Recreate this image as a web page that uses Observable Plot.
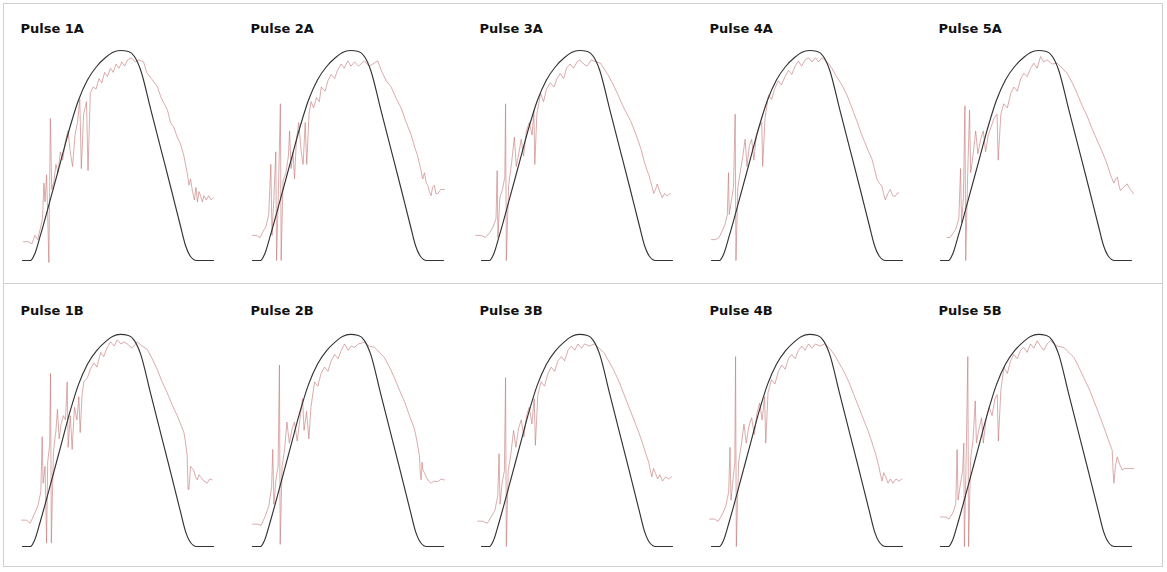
<!DOCTYPE html>
<html><head><meta charset="utf-8">
<script src="https://cdn.jsdelivr.net/npm/d3@7"></script>
<script src="https://cdn.jsdelivr.net/npm/@observablehq/plot@0.6"></script>
<style>
body{margin:0;background:#fff;}
.row{position:absolute;left:3px;width:1160px;border:1px solid #cfcfcf;box-sizing:border-box;overflow:hidden;}
</style></head><body>
<div id="rowA" class="row" style="top:3px;height:281px"></div>
<div id="rowB" class="row" style="top:283px;height:284px"></div>
<script>
const pulses = ["1","2","3","4","5"];
const groups = ["A","B"];

// shared reference pulse (black): time (0-100) and level (0-100)
const blackX = [0,4.2,6.3,9.4,14.7,19.9,25.1,29.3,34,38.7,43.5,47.1,51.3,55.5,58.6,61.8,67,72.3,77.5,82.7,85.3,88,91.1,100];
const blackY = [0,0,2.9,12.1,29.6,47.1,64.6,76.7,86.4,92.7,97.1,99.5,100.5,100,97.6,91.3,72.8,53.9,35.4,16.5,7.3,1.9,0,0];

// measured pulses (red): [time, level]
const red1A = [[0.5,9],[3,9],[5,8],[6.5,12],[8,10],[9.5,16],[10.5,20],[11.2,37],[11.8,28],[12.6,41],[13.2,22],[13.8,-1],[14.6,68],[15.3,34],[16.5,38],[17.5,46],[18.6,42],[19.8,52],[21,48],[22.5,57],[23.8,62],[25,52],[26.2,45],[27.5,60],[28.8,66],[30,77],[30.8,44],[32,70],[33.5,76],[34.3,43],[35.5,80],[37,83],[38.5,82],[40,87],[41.5,85],[43,90],[44.5,88],[46,92],[47.5,90],[49,94],[50.5,92],[52,95],[53.5,93],[55,96],[57,97],[59,95],[61,96],[63.4,95],[65,90],[67.5,87],[70.7,83],[72.5,78],[75.9,72],[77.5,66],[79.1,64],[81,59],[82.7,56],[84.5,50],[86.4,41],[87.2,36],[88,39],[89,33],[90,29],[90.8,35],[91.6,28],[92.4,33],[93.2,31],[94.2,28],[95,31],[96.2,29],[97.5,31],[98.8,29],[100,30]];
const red2A = [[0,12],[2,12],[4,11],[5.5,14],[7,16],[8.5,22],[9.6,46],[10.2,12],[11.2,30],[12.2,52],[12.6,0],[13.6,34],[14.6,75],[15,0],[16,38],[17.5,42],[18.8,50],[19.4,62],[20.2,44],[21.2,52],[22,39],[23,58],[24.2,66],[25.5,52],[26.5,46],[27.6,66],[28.4,46],[29.6,70],[30.7,76],[32,73],[33.5,78],[35,76],[36,83],[38,81],[39.5,86],[41.2,89],[43,87],[44.5,91],[46.4,94],[48,92],[49.9,95.5],[51.5,93],[53.4,95],[55.5,93],[58.6,95.5],[61,93],[63,94],[65.6,95.5],[67.4,91],[70,86],[72.6,83],[75,78],[77.8,73],[80.5,66],[83.1,60],[85,54],[86.5,50],[88,44],[89.1,39],[90,42],[91,37],[91.8,36],[92.6,33],[93.5,31],[94.3,35],[95.2,36],[96,32],[97,32],[98.5,34],[100.5,34]];
const red3A = [[-3,12],[0,12],[2,11],[4,13],[6,16],[7.6,20],[8.2,43],[8.6,11],[9.6,30],[11,34],[12.2,40],[12.6,75],[13,0],[14.2,36],[15.8,47],[17.2,59],[18.2,45],[19.5,51],[20.8,58],[22,50],[23.5,62],[25,66],[26.5,60],[27.4,72],[27.9,46],[29,70],[30.9,80],[32.5,76],[34,82],[36,85],[38,83],[39.5,87],[41.2,89.5],[43,87],[44.5,92],[46.4,94],[48.2,92],[50,95],[51.6,96],[53.5,94],[55.3,93],[57.5,96],[60,95],[62.3,94.4],[64,92],[65.8,89.5],[68.5,85],[71.1,80],[74.5,73],[78,67],[80.6,61],[83.3,54],[85,48],[86.7,43],[87.6,41],[88.5,38],[89.4,35],[90.2,32],[91.1,34],[92,36.6],[93.3,33],[94.6,30],[95.8,32],[97.2,31],[98.9,32]];
const red4A = [[0,10],[2,10],[4,11],[5.5,14],[7,17],[8.3,22],[8.9,42],[9.3,22],[10.3,28],[11.5,35],[12.4,70],[12.8,0],[13.8,35],[15,42],[16.4,50],[17.6,58],[18.6,45],[19.8,55],[21,58],[22.2,48],[23.5,60],[25,64],[26.3,66],[26.8,45],[28,68],[29.8,79],[31.5,77],[33,82],[35,86],[36.6,84],[38.5,88],[40.3,91],[42,89],[43.8,93],[45.5,95.5],[47.2,93],[49,96],[50.8,97],[52.6,95],[54.5,97],[56,95],[57.8,97],[60.5,95],[63,92],[65.5,88],[68.2,84],[71,79],[73.5,73],[76,67],[78.7,60],[81.4,54],[84,48.5],[85.3,44],[86.6,39],[87.9,37],[89.2,35.6],[90.1,32],[91,29],[92.3,32],[93.6,34],[94.9,31],[96.2,30.7],[97.1,32],[98,32.4]];
const red5A = [[3.5,11],[5,11],[6.5,13],[8,15],[9.6,20],[10.5,44],[11,18],[12,30],[12.8,74],[13.2,0],[14.2,40],[15.2,72],[15.8,42],[17,50],[18.4,62],[19.6,51],[21,58],[22.4,62],[23.6,52],[25,60],[26.5,64],[28,68],[29.6,70],[30.2,48],[31.6,70],[33.1,75],[35,73],[36.8,80],[38.4,83],[40.2,81],[42,87],[43.6,89.6],[45.4,88],[47.2,92],[48.9,94.4],[50.6,92],[52.4,97.6],[54,95],[55.8,96],[58.5,94],[61.1,94.4],[63.8,92],[66.3,89.6],[69,85],[71.5,80],[74.2,74],[76.8,69],[79.4,63],[82,57.5],[84.7,52],[87.3,46],[89,41],[90.8,37],[91.7,39],[92.6,40],[93.4,36],[94.2,33.5],[95.9,35],[97.7,36.7],[99.4,34],[101,32]];
const red1B = [[-0.5,12.5],[2,12.5],[4,11],[6,15],[8,19],[9.6,26],[10.3,52],[10.8,30],[11.8,38],[12.6,1.6],[13.2,40],[14.2,48],[14.7,82],[15.1,1.6],[16.2,45],[17.5,55],[18.3,65],[19.2,51],[20.2,58],[21.4,62],[22.5,60],[23.4,78],[23.9,47],[25,62],[26,46],[27.2,66],[28.5,60],[29.5,71],[30.2,54],[31.2,72],[32.1,78],[34,80],[35.5,84],[37.4,87],[39,85],[40.9,92],[42.5,90],[44.2,94],[46.1,97],[48,95],[49.6,98],[51.5,96],[53.2,97],[54.8,96],[57.4,94],[60,97],[62.6,95],[65.3,93.5],[67.9,89],[70.5,84],[73.1,78],[75.7,73],[78.4,67],[81,62],[82.8,58],[84.5,54],[85.4,49],[86.2,43],[86.7,27],[87.1,27],[88,38],[88.9,37],[89.7,36],[90.6,33],[91.5,31.6],[92.4,34],[93.2,33],[95,31],[96.7,30],[98,32],[99.3,31.6]];
const red2B = [[0,10.6],[2.5,10.6],[4.5,10],[6.5,14],[8.5,19],[10,28],[10.6,46],[11.2,20],[12.3,32],[13.4,38],[14.1,86],[14.5,1],[15.5,38],[16.8,46],[18,59],[19.3,49],[20.8,56],[22,59],[23.4,50],[24.8,60],[26.2,70],[27,55],[28.3,64],[29.5,51],[30.6,66],[32.5,78],[34.2,76],[35.9,82],[37.7,85],[39.5,83],[41.2,88],[43,91],[44.8,89],[46.5,93],[48.2,96],[50,93],[51.7,95],[53.4,94.4],[55.5,96],[58.6,96.8],[61,95],[63.9,94.4],[66.5,92],[69.1,89.5],[71.7,85],[74.3,80],[77,74],[79.6,68.6],[82.2,62],[84.8,55.7],[86.1,50],[87.4,43],[87.9,34],[88.3,31.6],[88.8,40],[89.2,36.3],[90,35],[90.9,33],[92.2,31],[93.5,30],[95.2,31],[97,30.7],[98.8,32],[100.5,31.5]];
const red3B = [[-2,12],[0.5,12],[3,11],[5,14],[7,17],[8.5,24],[9.2,44],[9.7,20],[10.8,30],[12,36],[12.6,80],[13,0],[14,36],[15.4,44],[16.8,55],[18,47],[19.4,56],[20.8,60],[22.2,52],[23.6,62],[25,66],[26.4,58],[27.6,70],[28.2,48],[29.5,72],[31.2,78],[33,76],[34.8,82],[36.5,85],[38.3,83],[40,88],[41.8,90],[43.5,88],[45.3,93],[47,95],[48.8,93],[50.5,96],[52.3,94],[54,96],[56.5,95],[59,96],[61.5,94],[64,92],[66.5,88],[69,84],[71.6,79],[74.2,73],[76.8,67],[79.4,61],[82,55],[84.3,49],[86,44],[87.5,40],[88.4,36],[89.2,33],[90,37],[91,35],[92.2,32],[93.4,34],[94.8,31],[96.4,33],[98,32],[99.5,33]];
const red4B = [[-1,13],[1.5,13],[3.5,12],[5.5,15],[7.5,19],[9,26],[9.7,47],[10.2,22],[11.3,32],[12.2,40],[12.6,90],[13,0],[14.2,40],[15.6,48],[17,58],[18.2,49],[19.6,57],[21,61],[22.4,53],[23.8,63],[25.2,68],[26.5,60],[27.8,71],[28.4,49],[29.6,73],[31.4,79],[33.2,77],[35,83],[36.8,86],[38.6,84],[40.3,89],[42,91],[43.8,89],[45.5,93],[47.3,95],[49,93],[50.8,96],[52.5,94],[54.3,96],[56.8,95],[59.3,96],[61.8,94],[64.3,91],[66.8,87],[69.3,83],[71.9,78],[74.5,72],[77.1,66],[79.7,60],[82.3,54],[84.5,48],[86.2,43],[87.6,38],[88.5,34],[89.3,31],[90.2,35],[91.2,33],[92.4,30],[93.6,32],[95,30],[96.6,32],[98.2,31],[99.6,32]];
const red5B = [[0,14],[2.5,14],[4.5,13],[6.5,16],[8,20],[8.7,46],[9.2,22],[10.5,30],[11.6,36],[12.2,49],[12.5,0],[13.4,40],[14.3,90],[14.7,0],[15.8,42],[17,50],[18.2,69],[18.8,49],[20,55],[21.5,61],[22.4,49],[23.8,60],[25.5,66],[27,62],[28.5,70],[29.7,72],[30.3,50],[31.6,74],[33.2,85],[35,82],[36.7,88],[38.4,91],[40.2,89],[41.9,93],[43.6,94.3],[45.4,92],[47.1,96],[48.9,94],[50.6,97.5],[52.4,95],[54.1,93],[55.8,96],[57.6,97.5],[61,95],[64.6,94.3],[67.2,92],[69.8,89.6],[72.4,85],[75,80],[77.7,75],[80.3,69],[82.9,63],[85.5,56.6],[87.7,51],[89.9,45.6],[90.4,35],[90.8,30],[91.6,38],[92.5,42.5],[93.8,39],[95.1,36.2],[96.4,37],[97.7,37],[99.5,37],[101.2,37]];

const redSeries = {A: [red1A, red2A, red3A, red4A, red5A], B: [red1B, red2B, red3B, red4B, red5B]};
const black = blackX.map((x, i) => ({x, y: blackY[i]}));

const rowCfg = {
  A: {el: "rowA", h: 279, mt: 47, mb: 23, dy: -19},
  B: {el: "rowB", h: 282, mt: 51, mb: 20, dy: -21}
};

for (const g of groups) {
  const cfg = rowCfg[g];
  const row = document.getElementById(cfg.el);
  pulses.forEach((p, i) => {
    const title = "Pulse " + p + g;
    const svg = Plot.plot({
      width: 230, height: cfg.h,
      marginLeft: 18, marginRight: 21, marginTop: cfg.mt, marginBottom: cfg.mb,
      x: {domain: [0, 100], axis: null},
      y: {domain: [0, 100], axis: null},
      style: {background: "transparent", overflow: "visible", fontFamily: "DejaVu Sans"},
      marks: [
        Plot.line(redSeries[g][i], {x: d => d[0], y: d => d[1], stroke: "#c77b7b", strokeWidth: 0.8, strokeOpacity: 0.8}),
        Plot.line(black, {x: "x", y: "y", stroke: "#333", strokeWidth: 1.15, curve: "monotone-x"}),
        Plot.text([title], {frameAnchor: "top-left", text: d => d, dx: -2, dy: cfg.dy, lineAnchor: "bottom", textAnchor: "start", fontWeight: "bold", fontSize: 13, fill: "#111"})
      ]
    });
    svg.style.position = "absolute";
    svg.style.left = (i * 229.5) + "px";
    svg.style.top = "0px";
    row.appendChild(svg);
  });
}
</script>
</body></html>
